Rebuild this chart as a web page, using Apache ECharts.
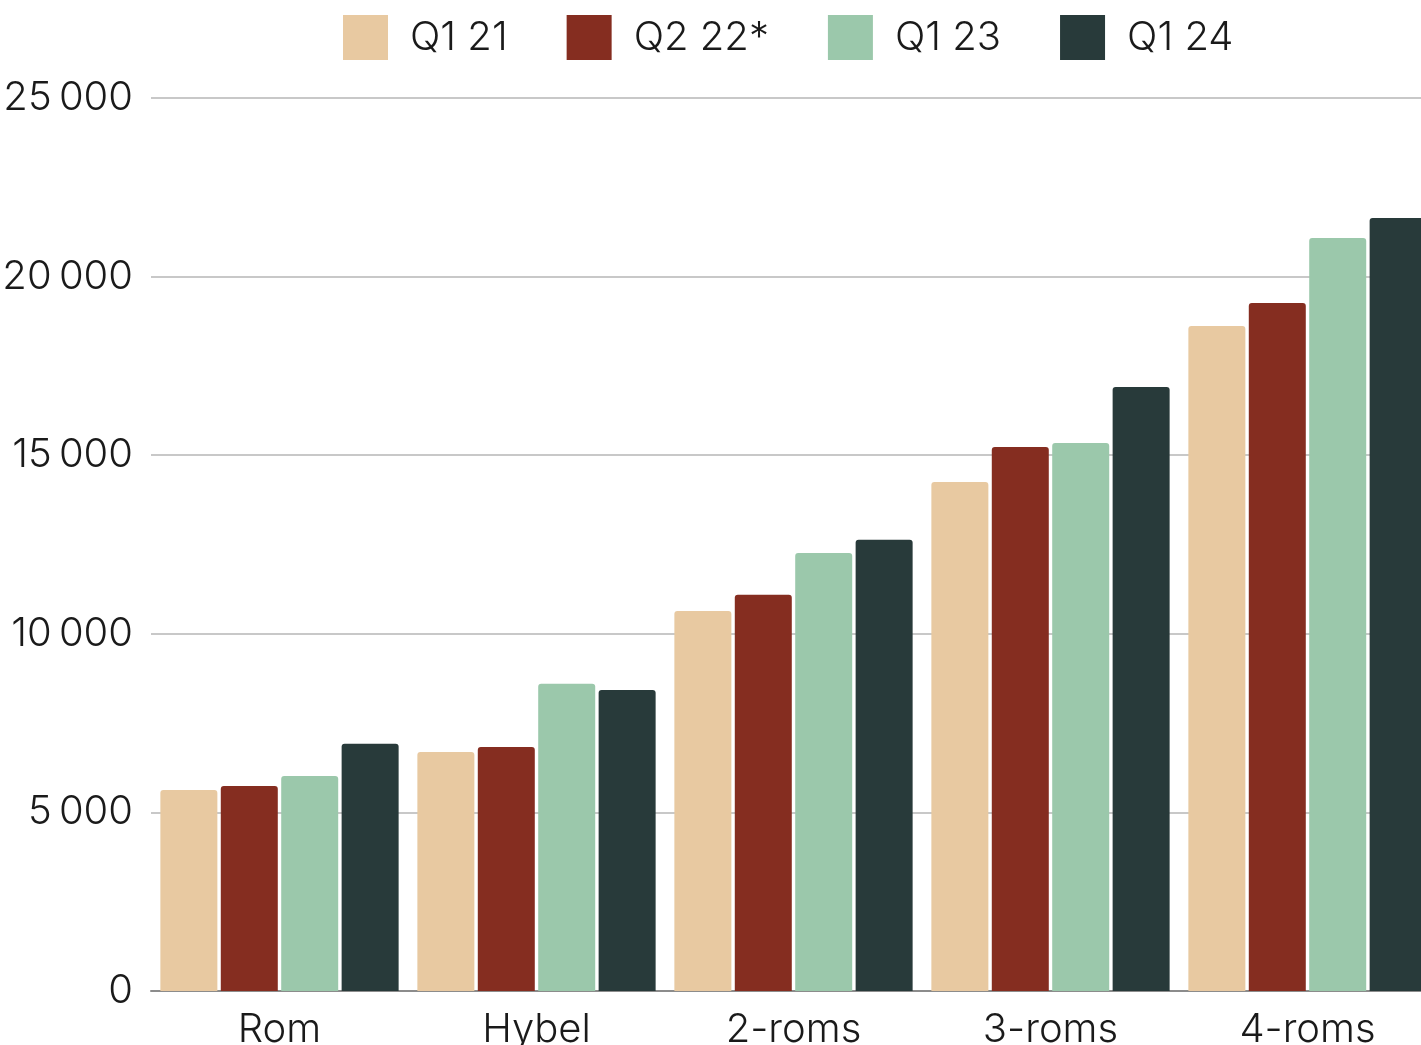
<!DOCTYPE html>
<html>
<head>
<meta charset="utf-8">
<script src="https://cdn.jsdelivr.net/npm/echarts@6/dist/echarts.min.js"></script>
<style>
  html, body { margin: 0; padding: 0; background: #fff; }
  #main { width: 1421px; height: 1045px; }
</style>
</head>
<body>
<div id="main"></div>
<script>
// categories and series
const categories = ['Rom', 'Hybel', '2-roms', '3-roms', '4-roms'];
const seriesNames = ['Q1 21', 'Q2 22*', 'Q1 23', 'Q1 24'];
const q121 = [5630, 6690, 10640, 14250, 18620];
const q222 = [5740, 6830, 11090, 15230, 19260];
const q123 = [6020, 8600, 12260, 15340, 21080];
const q124 = [6920, 8430, 12630, 16910, 21640];
const colors = ['#E8C9A1', '#852D20', '#9BC8AB', '#283A3A'];

const font = 'Inter';
const textColor = '#1a1a1a';

let myChart = echarts.init(document.getElementById('main'));

let series = [q121, q222, q123, q124].map((d, i) => ({
  name: seriesNames[i],
  type: 'bar',
  data: d,
  barWidth: 57,
  barGap: '6%',
  itemStyle: { color: colors[i], borderRadius: [3, 3, 0, 0] }
}));

let options = {
  animation: false,
  textStyle: { fontFamily: font },
  legend: {
    top: 15,
    left: 343,
    padding: 0,
    icon: 'rect',
    itemWidth: 45,
    itemHeight: 45,
    itemGap: 59,
    textStyle: { fontSize: 40, fontWeight: 300, color: textColor, fontFamily: font, padding: [0, 0, 0, 17] },
    data: seriesNames
  },
  grid: { left: 151, top: 98, width: 1285, height: 893, outerBoundsMode: 'none', containLabel: false },
  xAxis: {
    type: 'category',
    data: categories,
    axisLine: { lineStyle: { color: '#8c8c8c', width: 2 } },
    axisTick: { show: false },
    axisLabel: { fontSize: 40, fontWeight: 300, color: textColor, fontFamily: font, margin: 19 }
  },
  yAxis: {
    type: 'value',
    min: 0,
    max: 25000,
    interval: 5000,
    axisLine: { show: false },
    axisTick: { show: false },
    splitLine: { lineStyle: { color: '#c8c8c8', width: 2 } },
    axisLabel: {
      fontSize: 40, fontWeight: 300, color: textColor, fontFamily: font, margin: 18,
      formatter: v => String(v).replace(/\B(?=(\d{3})+(?!\d))/g, '\u2009')
    }
  },
  series: series
};
myChart.setOption(options, true);
</script>
</body>
</html>
